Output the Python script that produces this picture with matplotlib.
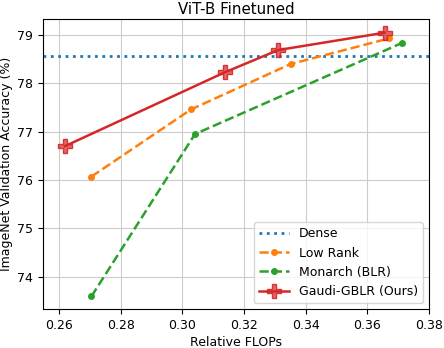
import numpy as np
import matplotlib.pyplot as plt

# data
dense_acc = 78.57

lr_flops = [0.2705, 0.3028, 0.3351, 0.367]
lr_acc = [76.07, 77.46, 78.40, 78.93]

mon_flops = [0.2705, 0.3041, 0.3714]
mon_acc = [73.59, 76.95, 78.84]

gblr_flops = [0.2619, 0.3138, 0.3311, 0.3657]
gblr_acc = [76.70, 78.23, 78.69, 79.05]

plt.rcParams['font.size'] = 9

fig, ax = plt.subplots(figsize=(4.44, 3.48), dpi=100)

ax.axhline(dense_acc, color='C0', linestyle=':', linewidth=2, label='Dense')
ax.plot(lr_flops, lr_acc, '--o', color='C1', markersize=4, linewidth=1.8, label='Low Rank')
ax.plot(mon_flops, mon_acc, '--o', color='C2', markersize=4, linewidth=1.8, label='Monarch (BLR)')
ax.plot(gblr_flops, gblr_acc, '-P', color='C3', markersize=10, linewidth=1.8,
        markerfacecolor=(0.84, 0.15, 0.16, 0.7), markeredgecolor=(0.84, 0.15, 0.16, 0.9),
        label='Gaudi-GBLR (Ours)')

ax.set_xlim(0.2548, 0.38)
ax.set_ylim(73.32, 79.33)
ax.set_xticks([0.26, 0.28, 0.30, 0.32, 0.34, 0.36, 0.38])
ax.grid(True, color='#cccccc')
ax.set_xlabel('Relative FLOPs', labelpad=3)
ax.set_ylabel('ImageNet Validation Accuracy (%)', labelpad=3)
ax.set_title('ViT-B Finetuned', pad=4)
ax.legend(loc='lower right', handlelength=2.4)

plt.subplots_adjust(left=0.097, right=0.966, top=0.945, bottom=0.111)
plt.savefig('out.png')
